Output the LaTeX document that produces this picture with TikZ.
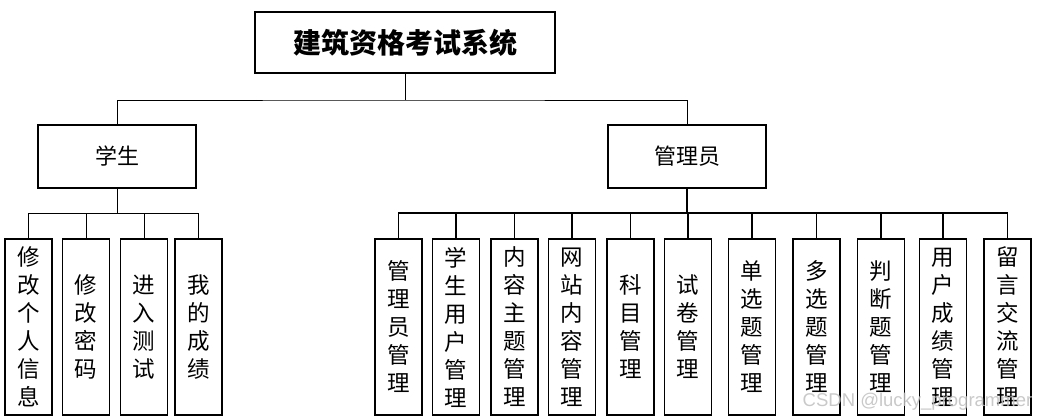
\documentclass[tikz,border=0pt]{standalone}
\usepackage{fontspec}
\newfontfamily\cjk{Noto Sans CJK SC}
\newfontfamily\wmfont{Liberation Sans}
\begin{document}
\begin{tikzpicture}[x=1pt,y=-1pt,
  box/.style={draw=black,line width=1.3pt,inner sep=0pt,align=center,font=\cjk},
  titlebox/.style={box,minimum width=300pt,minimum height=61pt,font=\cjk\bfseries\fontsize{28}{30}\selectfont},
  rolebox/.style={box,minimum width=158pt,minimum height=63pt,font=\cjk\fontsize{22}{26}\selectfont},
  leafbox/.style={box,minimum width=47pt,minimum height=176pt,font=\cjk\fontsize{22.5}{28}\selectfont},
  conn/.style={draw=black,line width=0.8pt},
  connb/.style={draw=black,line width=1.2pt}]
\useasboundingbox (0,0) rectangle (1038,420);
\node[titlebox] (top) at (405,42.5) {建筑资格考试系统};
\node[rolebox] (stu) at (117,156.5) {学生};
\node[rolebox] (adm) at (687,156.5) {管理员};
% student leaves
\node[leafbox] (s1) at (28.5,327) {修\\改\\个\\人\\信\\息};
\node[leafbox] (s2) at (86,327) {修\\改\\密\\码};
\node[leafbox] (s3) at (144,327) {进\\入\\测\\试};
\node[leafbox] (s4) at (198.5,327) {我\\的\\成\\绩};
% admin leaves
\node[leafbox] (a1) at (398.5,327) {管\\理\\员\\管\\理};
\node[leafbox] (a2) at (456,327) {学\\生\\用\\户\\管\\理};
\node[leafbox] (a3) at (514.5,327) {内\\容\\主\\题\\管\\理};
\node[leafbox] (a4) at (572,327) {网\\站\\内\\容\\管\\理};
\node[leafbox] (a5) at (630.5,327) {科\\目\\管\\理};
\node[leafbox] (a6) at (688,327) {试\\卷\\管\\理};
\node[leafbox] (a7) at (752,327) {单\\选\\题\\管\\理};
\node[leafbox] (a8) at (816.5,327) {多\\选\\题\\管\\理};
\node[leafbox] (a9) at (881,327) {判\\断\\题\\管\\理};
\node[leafbox] (a10) at (943,327) {用\\户\\成\\绩\\管\\理};
\node[leafbox] (a11) at (1007.5,327) {留\\言\\交\\流\\管\\理};
% connectors
\coordinate (j0) at (405,100);
\coordinate (j1) at (117,213);
\coordinate (j2) at (687,213);
\draw[conn] (top.south) -- (j0);
\draw[conn] (stu.north) |- (j0) -| (adm.north);
\draw[conn] (stu.south) -- (j1);
\foreach \n in {s1,s2,s3,s4} \draw[conn] (j1) -| (\n.north);
\draw[connb] (adm.south) -- (j2);
\foreach \n in {a1,a2,a3,a4,a5,a6,a7,a8,a9,a10,a11} \draw[connb] (j2) -| (\n.north);
% watermark
\node[text=black!25,opacity=0.85,font=\wmfont\fontsize{18.5}{20}\selectfont,inner sep=0pt] (wm) at (917.5,402) {CSDN @lucky\_programmer};
\end{tikzpicture}
\end{document}
